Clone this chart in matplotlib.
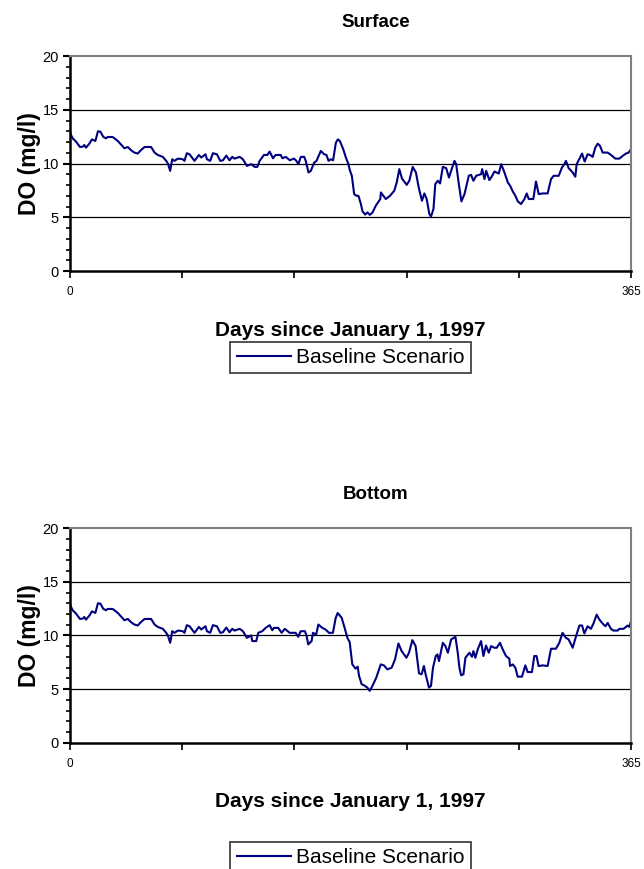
import numpy as np
import matplotlib.pyplot as plt
from matplotlib.ticker import MultipleLocator, FixedLocator

plt.rcParams['font.family'] = ['Liberation Sans', 'DejaVu Sans']

# surface DO (day, mg/l)
surf_day = [0, 1.7, 3.9, 6.5, 8.3, 9.3, 10.4, 12.6, 14.3, 16.5, 18.2, 19.8, 21.7, 23.5, 24.5,
            27.8, 31.1, 35.4, 37.6, 39.8, 41.9, 44.1, 45.6, 48.5, 52.8, 55.0, 57.1, 60.4, 62.6,
            63.7, 65.2, 66.5, 68.0, 70.2, 73.4, 74.5, 76.0, 77.8, 81.0, 83.9, 85.4, 88.2, 89.1,
            91.2, 93.0, 95.6, 97.8, 99.5, 101.7, 103.8, 105.6, 107.1, 110.4, 112.5, 115.1,
            118.0, 120.2, 121.9, 123.4, 126.2, 128.4, 129.9, 132.1, 133.8, 137.1, 138.2, 140.4,
            143.0, 145.8, 147.3, 148.6, 150.2, 152.4, 153.4, 155.2, 156.7, 158.9, 160.4, 163.2,
            165.4, 166.9, 168.2, 169.7, 171.2, 173.0, 174.3, 175.6, 177.8, 179.5, 181.2, 182.1,
            183.4, 184.9, 186.4, 187.7, 189.3, 190.3, 192.1, 193.6, 195.1, 196.9, 199.0, 201.9,
            202.3, 205.5, 208.2, 211.0, 212.6, 214.3, 216.0, 219.1, 220.8, 223.0, 225.1, 226.9,
            229.0, 230.6, 232.1, 233.8, 234.9, 236.5, 237.7, 239.3, 240.8, 242.6, 244.8, 246.6,
            248.7, 250.2, 251.3, 253.0, 254.7, 256.7, 259.5, 261.0, 262.5, 264.3, 267.5, 268.2,
            269.7, 270.8, 272.9, 274.7, 276.2, 279.0, 280.6, 282.7, 284.9, 286.4, 288.1, 289.8,
            291.4, 293.5, 295.7, 297.2, 298.5, 301.5, 303.2, 305.0, 307.6, 310.8, 313.0, 314.7,
            318.0, 320.1, 321.7, 322.7, 324.5, 327.1, 328.8, 329.7, 331.9, 333.2, 334.9, 336.8,
            338.4, 340.1, 341.8, 343.4, 344.9, 346.6, 349.9, 352.0, 354.9, 357.5, 359.6, 361.8,
            363.5, 365]
surf_do = [12.87, 12.35, 12.04, 11.54, 11.57, 11.73, 11.48, 11.85, 12.25, 12.1, 13.0, 12.96,
           12.47, 12.35, 12.47, 12.47, 12.1, 11.42, 11.54, 11.23, 11.02, 10.93, 11.17, 11.54,
           11.54, 11.02, 10.8, 10.62, 10.25, 10.0, 9.32, 10.4, 10.25, 10.46, 10.4, 10.25, 10.96,
           10.86, 10.25, 10.8, 10.56, 10.86, 10.4, 10.25, 10.96, 10.86, 10.25, 10.3, 10.74, 10.3,
           10.62, 10.46, 10.62, 10.4, 9.78, 9.94, 9.69, 9.69, 10.25, 10.8, 10.8, 11.11, 10.49,
           10.8, 10.8, 10.49, 10.62, 10.31, 10.46, 10.25, 9.94, 10.62, 10.62, 10.25, 9.17, 9.32,
           10.09, 10.25, 11.17, 10.86, 10.8, 10.25, 10.4, 10.3, 11.94, 12.25, 12.1, 11.33, 10.56,
           9.94, 9.38, 8.86, 7.16, 7.0, 7.0, 6.23, 5.56, 5.25, 5.46, 5.22, 5.46, 6.08, 6.7, 7.31,
           6.7, 7.0, 7.47, 8.24, 9.48, 8.61, 8.02, 8.4, 9.69, 9.17, 7.78, 6.54, 7.22, 6.7, 5.31,
           5.06, 5.77, 8.09, 8.4, 8.15, 9.69, 9.57, 8.7, 9.63, 10.25, 9.94, 8.09, 6.48, 7.16,
           8.86, 8.95, 8.4, 8.86, 9.01, 9.48, 8.55, 9.32, 8.46, 8.86, 9.26, 9.07, 9.94, 9.17,
           8.24, 7.93, 7.41, 7.0, 6.48, 6.23, 6.7, 7.22, 6.7, 6.7, 8.33, 7.16, 7.22, 7.22, 8.55,
           8.86, 8.86, 9.63, 9.94, 10.25, 9.57, 9.17, 8.77, 9.94, 10.56, 10.93, 10.19, 10.86,
           10.8, 10.62, 11.48, 11.85, 11.64, 11.02, 11.02, 10.8, 10.46, 10.46, 10.71, 10.93,
           11.02, 11.33]

# bottom DO
bot_day = [0, 1.7, 3.9, 6.5, 8.3, 9.3, 10.4, 12.6, 14.3, 16.5, 18.2, 19.8, 21.7, 23.5, 24.5,
           27.8, 31.1, 35.4, 37.6, 39.8, 41.9, 44.1, 45.6, 48.5, 52.8, 55.0, 57.1, 60.4, 62.6,
           63.7, 65.2, 66.5, 68.0, 70.2, 73.4, 74.5, 76.0, 77.8, 81.0, 83.9, 85.4, 88.2, 89.1,
           91.2, 93.0, 95.6, 97.8, 99.5, 101.7, 103.8, 105.6, 107.1, 110.4, 112.5, 115.1,
           117.9, 118.6, 121.2, 122.5, 125.1, 127.3, 129.9, 131.6, 132.7, 135.5, 137.7, 139.8,
           142.9, 146.8, 148.5, 150.1, 152.9, 154.0, 155.0, 157.2, 158.1, 160.2, 161.6, 164.2,
           166.3, 168.5, 171.1, 172.9, 174.2, 176.8, 179.0, 180.5, 182.0, 183.7, 185.9, 187.2,
           188.1, 189.8, 191.3, 193.5, 195.0, 196.8, 199.3, 202.2, 204.3, 206.5, 209.3, 211.5,
           213.7, 215.8, 218.9, 220.6, 222.8, 224.9, 227.1, 228.8, 230.3, 231.4, 233.6, 234.9,
           236.2, 238.0, 239.1, 240.1, 242.6, 244.3, 245.9, 248.0, 250.8, 252.3, 253.4, 254.5,
           256.0, 257.3, 259.9, 261.6, 262.5, 263.8, 265.3, 267.5, 269.0, 270.7, 272.5, 274.0,
           276.2, 277.7, 279.8, 281.6, 283.7, 285.9, 286.3, 288.1, 289.8, 291.3, 294.1, 296.3,
           297.8, 300.6, 302.1, 303.6, 304.9, 307.6, 310.8, 313.0, 316.2, 318.4, 320.5, 322.7,
           324.5, 327.1, 329.3, 331.5, 333.2, 334.7, 336.8, 339.0, 340.6, 342.7, 344.5, 346.6,
           348.4, 349.9, 352.0, 353.6, 356.4, 357.5, 360.1, 361.8, 362.9, 364.0, 365]
bot_do = [12.87, 12.35, 12.04, 11.54, 11.57, 11.73, 11.48, 11.85, 12.25, 12.1, 13.0, 12.96,
          12.47, 12.35, 12.47, 12.47, 12.1, 11.42, 11.54, 11.23, 11.02, 10.93, 11.17, 11.54,
          11.54, 11.02, 10.8, 10.62, 10.25, 10.0, 9.32, 10.4, 10.25, 10.46, 10.4, 10.25, 10.96,
          10.86, 10.25, 10.8, 10.56, 10.86, 10.4, 10.25, 10.96, 10.86, 10.25, 10.3, 10.74, 10.3,
          10.62, 10.46, 10.62, 10.4, 9.78, 10.0, 9.48, 9.48, 10.25, 10.4, 10.71, 10.96, 10.49,
          10.71, 10.71, 10.25, 10.62, 10.25, 10.25, 9.88, 10.4, 10.4, 9.94, 9.17, 9.48, 10.25,
          10.09, 11.02, 10.71, 10.56, 10.25, 10.25, 11.64, 12.1, 11.64, 10.56, 9.78, 9.38, 7.31,
          6.91, 7.1, 6.23, 5.46, 5.37, 5.15, 4.85, 5.31, 6.08, 7.31, 7.22, 6.85, 7.0, 7.78, 9.26,
          8.55, 7.93, 8.4, 9.57, 9.01, 6.48, 6.39, 7.16, 6.39, 5.15, 5.31, 7.0, 8.09, 8.24, 7.62,
          9.32, 9.01, 8.4, 9.63, 9.88, 8.4, 7.0, 6.3, 6.39, 7.93, 8.4, 8.02, 8.55, 7.93, 8.7,
          9.48, 8.09, 9.07, 8.4, 9.01, 8.86, 8.86, 9.32, 8.7, 8.09, 7.84, 7.16, 7.31, 7.0, 6.17,
          6.17, 7.22, 6.6, 6.6, 8.09, 8.09, 7.16, 7.22, 7.16, 8.77, 8.77, 9.32, 10.25, 9.78,
          9.63, 8.86, 9.94, 10.93, 10.93, 10.19, 10.86, 10.62, 11.11, 11.94, 11.48, 11.11, 10.86,
          11.17, 10.62, 10.46, 10.46, 10.62, 10.62, 10.8, 10.93, 10.8, 11.33]

titles = ['Surface', 'Bottom']
xticks = [0, 73, 146, 219, 292, 365]
xlabels = ['0', '', '', '', '', '365']

fig = plt.figure(figsize=(6.44, 8.69), dpi=100)
boxes = [[0.1087, 0.6881, 0.871, 0.2474], [0.1087, 0.1450, 0.871, 0.2474]]
series = [(surf_day, surf_do), (bot_day, bot_do)]
leg_y = [-0.33, -0.46]

for i in range(2):
    ax = fig.add_axes(boxes[i])
    d, v = series[i]
    ax.plot(d, v, color='#000080', lw=1.5, label='Baseline Scenario')
    ax.set_xlim(0, 365)
    ax.set_ylim(0, 20)
    for g in [5, 10, 15]:
        ax.axhline(g, color='black', lw=0.9, zorder=0)
    ax.yaxis.set_major_locator(FixedLocator([0, 5, 10, 15, 20]))
    ax.yaxis.set_minor_locator(MultipleLocator(1))
    ax.set_xticks(xticks)
    ax.set_xticklabels(xlabels)
    ax.tick_params(axis='y', which='major', direction='out', length=5, width=1.5, labelsize=10.5, pad=3)
    ax.tick_params(axis='y', which='minor', direction='out', length=3, width=1.2)
    ax.tick_params(axis='x', which='major', direction='out', length=5, width=1.2, labelsize=8.5, pad=6)
    ax.spines['left'].set_linewidth(1.8)
    ax.spines['bottom'].set_linewidth(1.8)
    ax.spines['top'].set_color('#808080')
    ax.spines['right'].set_color('#808080')
    ax.spines['top'].set_linewidth(1.5)
    ax.spines['right'].set_linewidth(1.5)
    ax.set_ylabel('DO (mg/l)', fontsize=16.5, fontweight='bold', labelpad=1)
    ax.set_xlabel('Days since January 1, 1997', fontsize=15, fontweight='bold', labelpad=16)
    ax.set_title(titles[i], fontsize=13.5, fontweight='bold', x=0.545, pad=21)
    leg = ax.legend(loc='upper center', bbox_to_anchor=(0.5, leg_y[i]), fontsize=15,
                    frameon=True, fancybox=False, handlelength=2.6, handletextpad=0.25,
                    borderpad=0.3, borderaxespad=0)
    leg.get_frame().set_edgecolor('black')
    leg.get_frame().set_linewidth(1.2)

fig.savefig('out.png', dpi=100)
